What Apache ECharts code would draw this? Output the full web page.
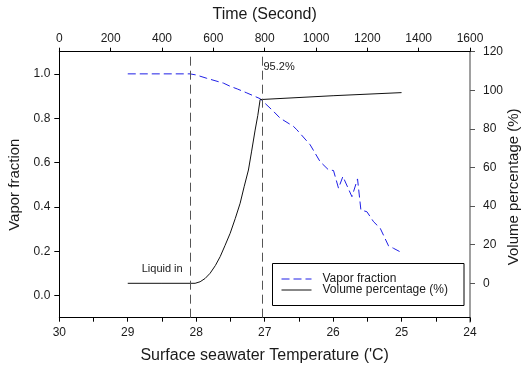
<!DOCTYPE html>
<html><head><meta charset="utf-8">
<script src="https://cdn.jsdelivr.net/npm/echarts@6.0.0/dist/echarts.min.js"></script>
<style>html,body{margin:0;padding:0;background:#fff}#c{width:525px;height:366px}</style>
</head><body><div id="c"></div>
<script>
// Data
const vaporTemp   = [29.0, 28.5, 28.09, 28.0, 27.845, 27.6, 27.504, 27.4, 27.26, 27.066, 26.871, 26.773, 26.579, 26.53, 26.335, 26.19, 26.067, 25.994, 25.921, 25.857, 25.725, 25.643, 25.594, 25.506, 25.409, 25.311, 25.19, 25.117, 24.994];
const vaporValues = [1.0,  1.0,  1.0,   0.995, 0.98, 0.958, 0.944, 0.932, 0.914, 0.888, 0.831, 0.800, 0.763, 0.748, 0.680, 0.604, 0.567, 0.564, 0.484, 0.537, 0.446, 0.526, 0.386, 0.378, 0.333, 0.303, 0.224, 0.213, 0.193];
const volumeTemp   = [29.0, 28.5, 28.016, 27.943, 27.87, 27.797, 27.72, 27.65, 27.58, 27.504, 27.43, 27.358, 27.30, 27.237, 27.19, 27.139, 27.10, 27.066, 26.0, 25.0];
const volumeValues = [0,    0,    0,      0.8,    2.5,   5.2,    9.2,   13.8,  19.5,  25.9,   33.5,  41.5,   50,    58.7,   68.5,  79.4,   87,    95.2,   97.2, 98.8];
const tempTicks   = [30, 29, 28, 27, 26, 25, 24];
const timeTicks   = [0, 200, 400, 600, 800, 1000, 1200, 1400, 1600];
const vaporTicks  = [0, 0.2, 0.4, 0.6, 0.8, 1.0];
const volumeTicks = [0, 20, 40, 60, 80, 100, 120];
const markerTemps = [28.085, 27.03];

const chart = echarts.init(document.getElementById('c'), null, {renderer: 'canvas'});
const FONT = 'Liberation Sans, Arial, sans-serif';
const TXT = '#1a1a1a';
const CLEAR = 'rgba(0,0,0,0)';
const pair = (xs, ys) => xs.map((x, i) => [x, ys[i]]);

chart.setOption({
  animation: false,
  textStyle: {fontFamily: FONT, color: TXT},
  grid: [
    {left: 59.3, right: 55, top: 51.7, bottom: 48.3, containLabel: false, outerBoundsMode: 'none'},
    {left: 59.3, right: 55, top: 51.7, bottom: 44.1, containLabel: false, outerBoundsMode: 'none'}
  ],
  xAxis: [
    {
      gridIndex: 0, type: 'value', position: 'bottom', inverse: true,
      min: tempTicks[tempTicks.length - 1], max: tempTicks[0], interval: 1,
      name: "Surface seawater Temperature ('C)", nameLocation: 'middle', nameGap: 30, nameMoveOverlap: false,
      nameTextStyle: {fontSize: 16, color: TXT, fontFamily: FONT},
      axisLine: {onZero: false, lineStyle: {color: '#000', width: 1}},
      axisTick: {show: true, inside: false, length: 4, lineStyle: {color: '#000'}},
      minorTick: {show: true, splitNumber: 2, length: 4, lineStyle: {color: '#000'}},
      axisLabel: {fontSize: 12, color: TXT, margin: 9, formatter: v => String(v)},
      splitLine: {show: false}
    },
    {
      gridIndex: 0, type: 'value', position: 'top',
      min: timeTicks[0], max: timeTicks[timeTicks.length - 1], interval: 200,
      name: 'Time (Second)', nameLocation: 'middle', nameGap: 29, nameMoveOverlap: false,
      nameTextStyle: {fontSize: 16, color: TXT, fontFamily: FONT},
      axisLine: {onZero: false, lineStyle: {color: '#000', width: 1}},
      axisTick: {show: true, inside: false, length: 4, lineStyle: {color: '#000'}},
      axisLabel: {fontSize: 12, color: TXT, margin: 7, formatter: v => String(v)},
      splitLine: {show: false}
    },
    {
      gridIndex: 1, type: 'value', show: false, inverse: true,
      min: tempTicks[tempTicks.length - 1], max: tempTicks[0]
    }
  ],
  yAxis: [
    {
      gridIndex: 0, type: 'value', position: 'left', min: -0.1, max: 1.1,
      name: 'Vapor fraction', nameLocation: 'middle', nameGap: 37, nameRotate: 90, nameMoveOverlap: false,
      nameTextStyle: {fontSize: 15, color: TXT, fontFamily: FONT},
      axisLine: {show: true, onZero: false, lineStyle: {color: '#000', width: 1}},
      axisTick: {show: true, length: 5, customValues: vaporTicks, lineStyle: {color: '#000'}},
      axisLabel: {fontSize: 12, color: TXT, margin: 9, customValues: vaporTicks,
                  formatter: v => Number(v).toFixed(1)},
      splitLine: {show: false}
    },
    {
      gridIndex: 1, type: 'value', position: 'right', min: -20, max: 120,
      name: 'Volume percentage (%)', nameLocation: 'middle', nameGap: 36, nameRotate: 90, nameMoveOverlap: false,
      nameTextStyle: {fontSize: 15, color: TXT, fontFamily: FONT},
      axisLine: {show: true, onZero: false, lineStyle: {color: '#808080', width: 1.5}},
      axisTick: {show: true, length: 5, customValues: volumeTicks, lineStyle: {color: '#555'}},
      axisLabel: {fontSize: 12, color: TXT, margin: 13, customValues: volumeTicks},
      splitLine: {show: false}
    }
  ],
  legend: {
    orient: 'vertical', left: 281, top: 273, padding: 0,
    itemWidth: 30, itemHeight: 10, itemGap: -1,
    itemStyle: {color: CLEAR, borderColor: CLEAR, borderWidth: 0, opacity: 0},
    lineStyle: {width: 1},
    textStyle: {fontSize: 12, color: TXT, lineHeight: 10, fontFamily: FONT, padding: [0, 0, 0, 6]},
    data: ['Vapor fraction', 'Volume percentage (%)']
  },
  graphic: [
    {type: 'rect', z: 1, shape: {x: 272.5, y: 263.5, width: 191.5, height: 42},
     style: {fill: 'none', stroke: '#000', lineWidth: 1}},
    {type: 'text', z: 60, x: 263.5, y: 66.7,
     style: {text: '95.2%', fontSize: 11, fontFamily: FONT, fill: TXT, verticalAlign: 'middle'}},
    {type: 'text', z: 60, x: 141.7, y: 269.3,
     style: {text: 'Liquid in', fontSize: 11, fontFamily: FONT, fill: TXT, verticalAlign: 'middle'}}
  ],
  series: [
    {
      name: 'Vapor fraction', type: 'line', xAxisIndex: 0, yAxisIndex: 0,
      data: pair(vaporTemp, vaporValues), symbol: 'none', showSymbol: false,
      lineStyle: {color: '#1f1fe6', width: 1, type: [8, 4]},
      itemStyle: {color: '#1f1fe6'},
      markLine: {
        silent: true, symbol: ['none', 'none'], label: {show: false},
        lineStyle: {color: '#555', width: 1, type: [9, 5]},
        data: markerTemps.map(t => ({xAxis: t}))
      }
    },
    {
      name: 'Volume percentage (%)', type: 'line', xAxisIndex: 2, yAxisIndex: 1,
      data: pair(volumeTemp, volumeValues), symbol: 'none', showSymbol: false,
      lineStyle: {color: '#111', width: 1},
      itemStyle: {color: '#333'}
    }
  ]
});
</script>
</body></html>
